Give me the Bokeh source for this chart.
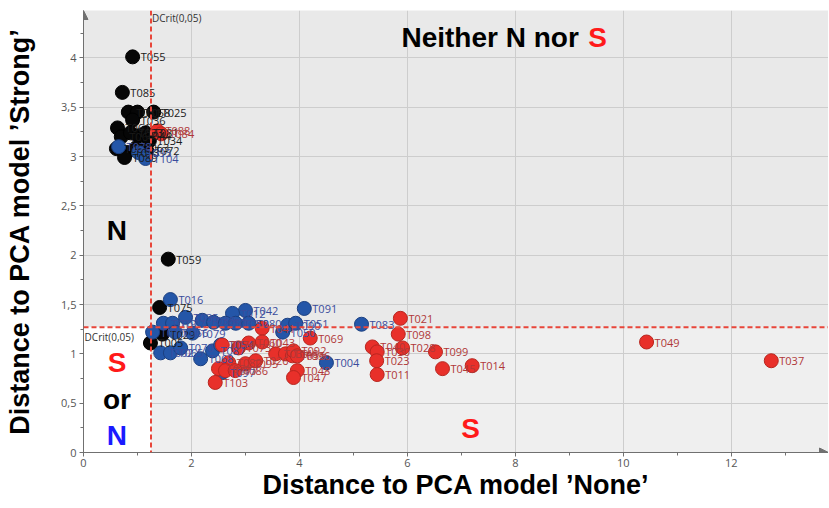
from bokeh.plotting import figure
from bokeh.models import (ColumnDataSource, Span, Label, Range1d, SingleIntervalTicker,
                          CustomJSTickFormatter, Arrow, NormalHead)
from bokeh.core.properties import value
from bokeh.embed import file_html
from bokeh.resources import INLINE

# ---------------- data ----------------
pid = ["T055", "T085", "T031", "T058", "T025", "T036", "T061", "T064", "T033", "T044",
       "T081", "T034", "T067", "T053", "T063", "T072", "T089",
       "T078", "T093", "T104", "T088", "T084",
       "T059", "T075", "T005", "T029",
       "T016", "T010", "T035", "T019", "T027", "T038", "T057", "T002", "T065", "T070",
       "T066", "T068", "T079", "T087", "T042", "T012", "T062", "T052", "T080", "T054",
       "T050", "T090", "T051", "T091", "T083", "T004", "T097",
       "T041", "T043", "T060", "T073", "T074", "T082", "T095", "T026", "T039", "T046",
       "T056", "T071", "T077", "T086", "T103", "T069", "T092", "T096", "T048", "T047",
       "T040", "T030", "T023", "T011", "T021", "T098", "T028", "T099", "T045", "T014",
       "T049", "T037"]
dist_none = [0.91, 0.72, 0.83, 1.00, 1.30, 0.91, 0.63, 0.70, 0.87, 1.02,
             1.15, 1.22, 0.61, 0.80, 0.98, 1.17, 0.76,
             0.65, 1.02, 1.15, 1.37, 1.44,
             1.57, 1.41, 1.24, 1.46,
             1.61, 1.28, 1.89, 1.48, 1.65, 2.20, 2.41, 1.43, 1.61, 1.80,
             1.70, 2.17, 2.02, 2.39, 3.00, 2.76, 2.63, 2.82, 3.06, 2.54,
             3.69, 3.78, 3.93, 4.09, 5.15, 4.50, 2.57,
             3.31, 3.31, 3.06, 2.87, 2.57, 2.69, 3.00, 3.19, 3.56, 3.74,
             3.87, 2.50, 2.63, 2.81, 2.44, 4.20, 3.89, 3.96, 3.96, 3.89,
             5.35, 5.44, 5.43, 5.44, 5.87, 5.83, 5.91, 6.52, 6.65, 7.20,
             10.43, 12.74]
dist_strong = [4.01, 3.65, 3.45, 3.45, 3.45, 3.37, 3.29, 3.20, 3.24, 3.21,
               3.24, 3.16, 3.08, 3.04, 3.09, 3.06, 2.99,
               3.10, 3.04, 2.98, 3.26, 3.23,
               1.96, 1.47, 1.11, 1.20,
               1.55, 1.22, 1.37, 1.31, 1.31, 1.34, 1.32, 1.01, 1.01, 1.06,
               1.22, 0.95, 1.21, 1.03, 1.44, 1.41, 1.31, 1.31, 1.31, 1.09,
               1.22, 1.29, 1.31, 1.46, 1.30, 0.91, 0.81,
               1.26, 1.12, 1.11, 1.06, 1.09, 0.91, 0.90, 0.93, 1.00, 1.00,
               0.98, 0.85, 0.83, 0.83, 0.71, 1.16, 1.03, 0.98, 0.83, 0.76,
               1.07, 1.02, 0.93, 0.79, 1.36, 1.20, 1.06, 1.02, 0.85, 0.88,
               1.12, 0.93]
cls = (["N"] * 17 + ["B"] * 3 + ["S"] * 2 + ["N"] * 4 + ["B"] * 27 + ["S"] * 32)

dcrit_none = 1.25
dcrit_strong = 1.27
x_max = 13.8
y_max = 4.48
x_ticks_interval = 2
y_ticks_interval = 0.5

# ---------------- styles ----------------
fill_map = {"N": "#060606", "B": "#2456a8", "S": "#e8302a"}
edge_map = {"N": "#000000", "B": "#1b3f80", "S": "#b8261f"}
text_map = {"N": "#1a1a1a", "B": "#3a4c9c", "S": "#b03838"}

src = ColumnDataSource(dict(
    x=dist_none, y=dist_strong, name=pid,
    fill=[fill_map[c] for c in cls],
    edge=[edge_map[c] for c in cls],
    tcol=[text_map[c] for c in cls],
))

p = figure(width=828, height=505, output_backend="svg", toolbar_location=None,
           x_range=Range1d(0, x_max), y_range=Range1d(0, y_max),
           min_border_left=83, min_border_right=0, min_border_top=10, min_border_bottom=53,
           background_fill_color="#e9e9e9", border_fill_color="white",
           outline_line_color=None)

# regions
p.quad(left=[dcrit_none], right=[x_max], bottom=[0], top=[dcrit_strong],
       fill_color="#efefef", line_color=None, level="image")
p.quad(left=[0], right=[dcrit_none], bottom=[0], top=[dcrit_strong],
       fill_color="white", line_color=None)

# grids
p.xgrid.grid_line_color = "#cdcdcd"
p.ygrid.grid_line_color = "#cdcdcd"

# axes
fmt = CustomJSTickFormatter(code="return tick.toString().replace('.', ',');")
p.xaxis.ticker = SingleIntervalTicker(interval=x_ticks_interval, num_minor_ticks=2)
p.yaxis.ticker = SingleIntervalTicker(interval=y_ticks_interval, num_minor_ticks=2)
for ax in (p.xaxis[0], p.yaxis[0]):
    ax.formatter = fmt
    ax.axis_line_color = "#707070"
    ax.major_tick_line_color = "#707070"
    ax.minor_tick_line_color = "#707070"
    ax.major_tick_out = 4
    ax.major_tick_in = 0
    ax.minor_tick_out = 3
    ax.minor_tick_in = 0
    ax.major_label_text_font = "Open Sans"
    ax.major_label_text_font_size = "11px"
    ax.major_label_text_color = "#555555"
    ax.axis_label_text_font = "Liberation Sans"
    ax.axis_label_text_font_style = "bold"
    ax.axis_label_text_font_size = "27px"
    ax.axis_label_text_color = "black"
p.xaxis.axis_label = "Distance to PCA model \u2019None\u2019"
p.yaxis.axis_label = "Distance to PCA model \u2019Strong\u2019"
p.xaxis.major_label_standoff = 2
p.xaxis.axis_label_standoff = 0
p.yaxis.major_label_standoff = 3
p.yaxis.axis_label_standoff = 23

# axis arrow heads
p.add_layout(Arrow(x_start=x_max - 0.4, y_start=0, x_end=x_max, y_end=0, line_color="#707070",
                   end=NormalHead(size=9, fill_color="#707070", line_color="#707070")))
p.add_layout(Arrow(x_start=0, y_start=y_max - 0.2, x_end=0, y_end=y_max, line_color="#707070",
                   end=NormalHead(size=9, fill_color="#707070", line_color="#707070")))

# critical lines
p.add_layout(Span(location=dcrit_none, dimension="height", line_color="#e8463a",
                  line_dash="5 3", line_width=2))
p.add_layout(Span(location=dcrit_strong, dimension="width", line_color="#e8463a",
                  line_dash="5 3", line_width=2))
p.add_layout(Label(x=dcrit_none + 0.02, y=4.4, text="DCrit(0,05)", text_font="Open Sans",
                   text_font_size="10px", text_color="#333333", text_baseline="middle"))
p.add_layout(Label(x=0.02, y=dcrit_strong - 0.1, text="DCrit(0,05)", text_font="Open Sans",
                   text_font_size="10px", text_color="#333333", text_baseline="middle"))

# points
p.scatter("x", "y", source=src, size=14, fill_color="fill", line_color="edge", line_width=1)
p.text("x", "y", text="name", source=src, x_offset=8, text_baseline="middle",
       text_font=value("Open Sans"), text_font_size="11px", text_color="tcol")

# region annotations
def big(x, y, t, c, align="center"):
    p.add_layout(Label(x=x, y=y, text=t, text_color=c, text_font="Liberation Sans",
                       text_font_style="bold", text_font_size="28px",
                       text_align=align, text_baseline="middle"))

big(5.89, 4.21, "Neither N nor", "black", "left")
big(9.35, 4.21, "S", "#ff1a1a", "left")
big(0.62, 2.25, "N", "black")
big(0.62, 0.91, "S", "#ff1a1a")
big(0.62, 0.54, "or", "black")
big(0.62, 0.17, "N", "#1a1aff")
big(7.17, 0.24, "S", "#ff1a1a")

open("out.html", "w").write(file_html(p, INLINE))
